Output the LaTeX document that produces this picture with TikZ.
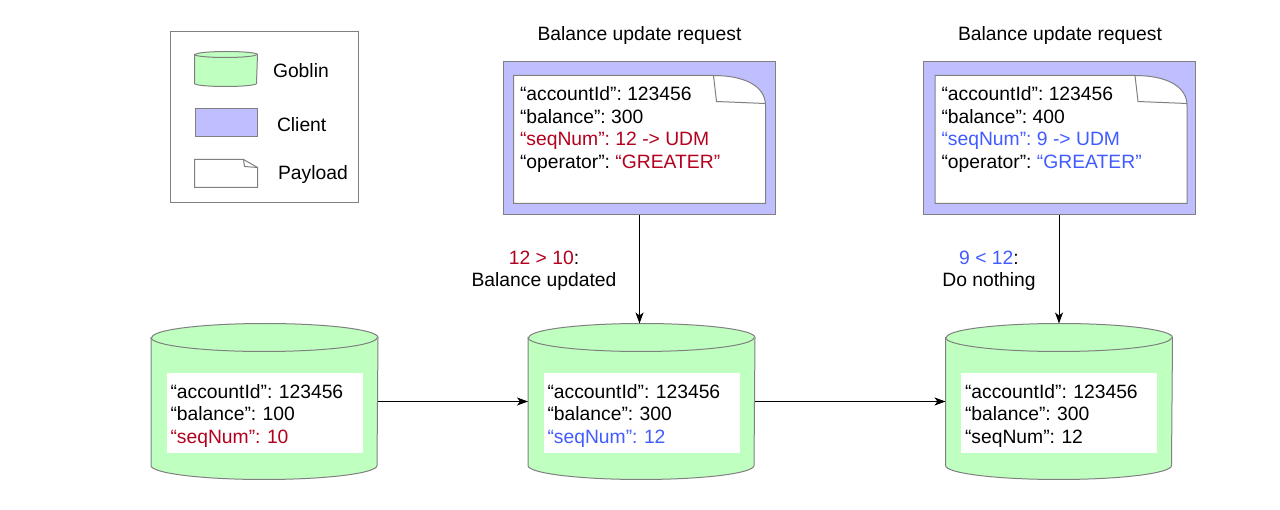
\documentclass[tikz,border=0pt]{standalone}
\usepackage{fontspec}
\setmainfont{Liberation Sans}
\usepackage{xcolor}
\usetikzlibrary{arrows.meta, positioning}

\definecolor{gobfill}{RGB}{191,255,191}
\definecolor{clifill}{RGB}{191,191,255}
\definecolor{edgegray}{RGB}{128,128,128}
\definecolor{seqred}{RGB}{180,0,30}
\definecolor{seqblue}{RGB}{64,92,255}

\frenchspacing
\begin{document}
\begin{tikzpicture}[x=1pt, y=-1pt, line width=1pt,
    every node/.style={font=\fontsize{19.3}{22.5}\selectfont},
    goblin/.style={minimum width=226pt, minimum height=155pt, inner sep=0pt},
    gobline/.style={draw=edgegray, fill=gobfill},
    record/.style={fill=white, minimum width=196pt, minimum height=80pt, text height=20pt,
                   text width=188pt, inner xsep=4pt, align=left},
    client/.style={draw=edgegray, fill=clifill, minimum width=272pt,
                   minimum height=153pt, inner sep=0pt},
    paper/.style={minimum width=251pt, minimum height=127pt, inner sep=0pt},
    paperline/.style={draw=edgegray, fill=white},
    fields/.style={inner sep=0pt, align=left},
    legtext/.style={inner sep=0pt, yshift=-1.5pt},
    >={Stealth[length=11pt, width=8pt, inset=3pt]}]

    \fill[white] (0,0) rectangle (1280,510);

    % legend
    \node[draw=edgegray, minimum width=188pt, minimum height=171pt] (legend) at (264,117.5) {};
    \node[minimum width=62pt, minimum height=34pt, inner sep=0pt] (leggob) at (226,69) {};
    \node[client, minimum width=62pt, minimum height=28pt] (legcli) at (226,123) {};
    \node[minimum width=62pt, minimum height=27pt, inner sep=0pt] (legpay) at (226,173.5) {};
    \draw[paperline] (legpay.north west) -- ([xshift=-14pt]legpay.north east)
        -- ([yshift=-8pt]legpay.north east) -- (legpay.south east) -- (legpay.south west) -- cycle;
    \draw[edgegray] ([xshift=-14pt]legpay.north east) -- ([xshift=-13pt,yshift=-7pt]legpay.north east)
        -- ([yshift=-8pt]legpay.north east);

    % requests
    \node (title1) at (639.5,36) {Balance update request};
    \node (title2) at (1060,36) {Balance update request};
    \node[client] (client1) at (639.5,138.5) {};
    \node[client] (client2) at (1059,138.5) {};
    \node[paper] (pay1) at (639.5,139.5) {};
    \node[paper] (pay2) at (1061,139.5) {};
    \foreach \p in {pay1, pay2} {
        \draw[paperline] (\p.north west) -- ([xshift=-52pt]\p.north east)
            .. controls ([xshift=-22pt]\p.north east) and ([yshift=-10pt]\p.north east)
            .. ([yshift=-30pt]\p.north east) -- (\p.south east) -- (\p.south west) -- cycle;
        \draw[edgegray] ([xshift=-52pt]\p.north east) -- ([xshift=-49pt,yshift=-26pt]\p.north east)
            -- ([yshift=-28pt]\p.north east);
    }
    \node[fields, below right=11pt and 6pt of pay1.north west] (fields1)
        {“accountId”: 123456\\“balance”: 300\\\textcolor{seqred}{“seqNum”: 12 -> UDM}\\“operator”: \textcolor{seqred}{“GREATER”}};
    \node[fields, below right=11pt and 6pt of pay2.north west] (fields2)
        {“accountId”: 123456\\“balance”: 400\\\textcolor{seqblue}{“seqNum”: 9 -> UDM}\\“operator”: \textcolor{seqblue}{“GREATER”}};

    % stores
    \node[goblin] (goblin1) at (264.5,401.5) {};
    \node[goblin] (goblin2) at (641.5,401.5) {};
    \node[goblin] (goblin3) at (1059,401.5) {};
    \foreach \g/\rx/\ry in {goblin1/113/14, goblin2/113/14, goblin3/113/14, leggob/31/3} {
        \draw[gobline] ([yshift=-\ry pt]\g.north west) -- ([yshift=\ry pt]\g.south west)
            arc[start angle=180, end angle=360, x radius=\rx pt, y radius=\ry pt]
            -- ([yshift=-\ry pt]\g.north east)
            arc[start angle=0, end angle=180, x radius=\rx pt, y radius=\ry pt] -- cycle;
        \draw[edgegray] ([yshift=-\ry pt]\g.north west)
            arc[start angle=180, end angle=360, x radius=\rx pt, y radius=\ry pt];
    }
    \node[record] (rec1) at ([yshift=-11.5pt]goblin1.center)
        {“accountId”: 123456\\“balance”: 100\\\textcolor{seqred}{“seqNum”: 10}};
    \node[record] (rec2) at ([yshift=-11.5pt]goblin2.center)
        {“accountId”: 123456\\“balance”: 300\\\textcolor{seqblue}{“seqNum”: 12}};
    \node[record] (rec3) at ([yshift=-11.5pt]goblin3.center)
        {“accountId”: 123456\\“balance”: 300\\“seqNum”: 12};

    \node[legtext, right=15pt of leggob] {Goblin};
    \node[legtext, right=19pt of legcli] {Client};
    \node[legtext, right=20pt of legpay] {Payload};

    \node[align=center] (cond1) at (544,271) {\textcolor{seqred}{12 > 10}:\\Balance updated};
    \node[align=center] (cond2) at (989,271) {\textcolor{seqblue}{9 < 12}:\\Do nothing};

    \draw[->] (goblin1) -- (goblin2);
    \draw[->] (goblin2) -- (goblin3);
    \draw[->] (client1) -- (client1 |- goblin2.north);
    \draw[->] (client2) -- (client2 |- goblin3.north);
\end{tikzpicture}
\end{document}
